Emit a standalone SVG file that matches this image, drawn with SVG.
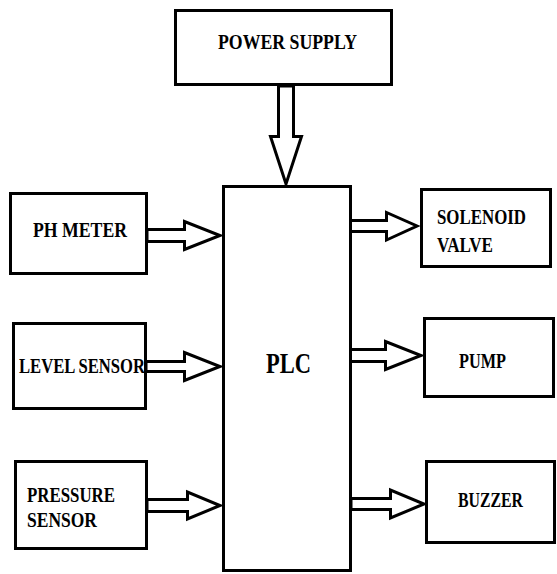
<svg xmlns="http://www.w3.org/2000/svg" width="557" height="574" viewBox="0 0 557 574">
<style>
.box{fill:#fff;stroke:#000;stroke-width:3}
.arr{fill:#fff;stroke:#000;stroke-width:3;stroke-linejoin:miter}
.t{font-family:"Liberation Serif","Times New Roman",serif;font-weight:bold;font-size:21px;fill:#000}
.big{font-size:29px}
</style>
<rect width="557" height="574" fill="#fff"/>
<g id="connectors">
<polygon class="arr" points="278.5,86 293.5,86 293.5,136.5 301.5,136.5 286,184 270.5,136.5 278.5,136.5"/>
<polygon class="arr" points="147,229.5 184.5,229.5 184.5,221.5 220,235.5 184.5,249.5 184.5,241.5 147,241.5"/>
<polygon class="arr" points="146,361.5 184.5,361.5 184.5,352.5 220,366.5 184.5,380.5 184.5,371.5 146,371.5"/>
<polygon class="arr" points="147,499.5 187.5,499.5 187.5,492 220,505.5 187.5,519 187.5,511.5 147,511.5"/>
<polygon class="arr" points="350,220.5 386.5,220.5 386.5,212.5 417,226 386.5,240 386.5,231.5 350,231.5"/>
<polygon class="arr" points="349.5,349.5 385.5,349.5 385.5,341.5 421,355.5 385.5,369.5 385.5,361.5 349.5,361.5"/>
<polygon class="arr" points="351,498.5 390.5,498.5 390.5,490 424,504 390.5,518 390.5,509.5 351,509.5"/>
</g>
<g id="power-supply">
<rect class="box" x="175.5" y="10.5" width="216" height="74"/>
<text class="t" x="218" y="49" textLength="139" lengthAdjust="spacingAndGlyphs">POWER SUPPLY</text>
</g>
<g id="plc">
<rect class="box" x="223.5" y="186.5" width="127" height="384"/>
<text class="t big" x="266" y="373" textLength="45" lengthAdjust="spacingAndGlyphs">PLC</text>
</g>
<g id="ph-meter">
<rect class="box" x="10.5" y="193.5" width="136" height="80"/>
<text class="t" x="33" y="237" textLength="94" lengthAdjust="spacingAndGlyphs">PH METER</text>
</g>
<g id="level-sensor">
<rect class="box" x="13.5" y="323.5" width="132" height="85"/>
<text class="t" x="19" y="373" textLength="126" lengthAdjust="spacingAndGlyphs">LEVEL SENSOR</text>
</g>
<g id="pressure-sensor">
<rect class="box" x="15.5" y="461.5" width="131" height="87"/>
<text class="t" x="27" y="502" textLength="88" lengthAdjust="spacingAndGlyphs">PRESSURE</text>
<text class="t" x="27" y="527" textLength="70" lengthAdjust="spacingAndGlyphs">SENSOR</text>
</g>
<g id="solenoid-valve">
<rect class="box" x="421.5" y="189.5" width="129" height="77"/>
<text class="t" x="437" y="224" textLength="89" lengthAdjust="spacingAndGlyphs">SOLENOID</text>
<text class="t" x="437" y="252" textLength="56" lengthAdjust="spacingAndGlyphs">VALVE</text>
</g>
<g id="pump">
<rect class="box" x="424.5" y="318.5" width="129" height="78"/>
<text class="t" x="459" y="368" textLength="47" lengthAdjust="spacingAndGlyphs">PUMP</text>
</g>
<g id="buzzer">
<rect class="box" x="426.5" y="461.5" width="128" height="81"/>
<text class="t" x="458" y="507" textLength="65" lengthAdjust="spacingAndGlyphs">BUZZER</text>
</g>
</svg>
